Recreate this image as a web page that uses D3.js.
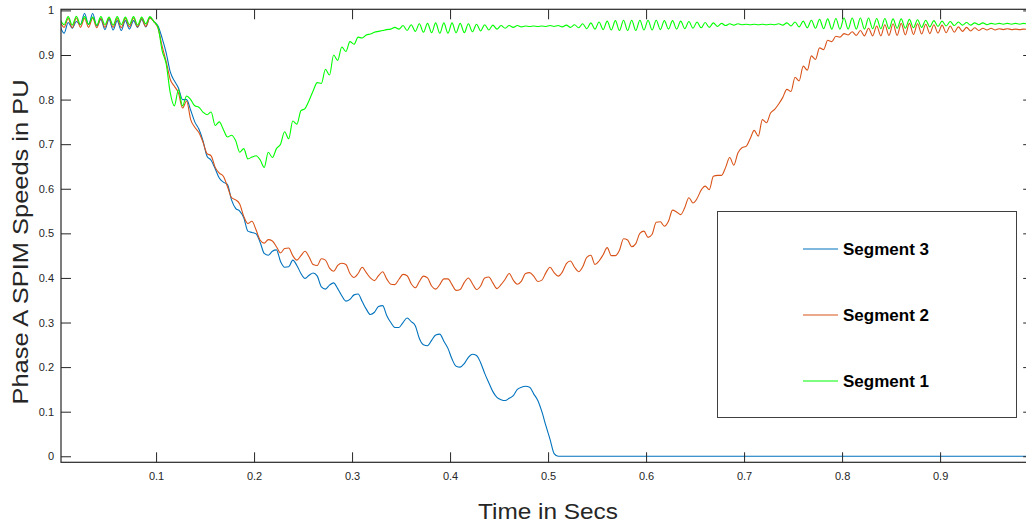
<!DOCTYPE html>
<html>
<head>
<meta charset="utf-8">
<script src="https://cdn.jsdelivr.net/npm/d3@7"></script>
<style>
  body { margin: 0; background: #ffffff; }
  svg { display: block; }
</style>
</head>
<body>
<svg id="chart" width="1026" height="529"></svg>
<script>
// Sampling of the recorded speed traces (seconds)
const sampleStart = 0.002;
const sampleStep = 1 / 240;

// Segment 1 speed (PU)
const segment1 = [
  0.980, 0.968, 0.986, 0.967, 0.987, 0.968, 0.986, 0.969, 0.985, 0.967, 0.986, 0.968, 0.985, 0.967, 0.986, 0.968, 0.985, 0.968, 0.986, 0.967, 0.985, 0.970, 0.986, 0.975,
  0.962, 0.910, 0.880, 0.815, 0.786, 0.822, 0.786, 0.808, 0.800, 0.786, 0.783, 0.772, 0.766, 0.772, 0.742, 0.750, 0.733, 0.716, 0.720, 0.708, 0.682, 0.690, 0.667, 0.671, 0.674, 0.665,
  0.648, 0.682, 0.670, 0.690, 0.700, 0.728, 0.712, 0.752, 0.745, 0.775, 0.780, 0.798, 0.820, 0.838, 0.836, 0.868, 0.855, 0.900, 0.888, 0.918, 0.908, 0.930, 0.924, 0.940, 0.938, 0.945,
  0.947, 0.951, 0.953, 0.955, 0.957, 0.958, 0.962, 0.958, 0.966, 0.955, 0.968, 0.953, 0.970, 0.951, 0.971, 0.950, 0.972, 0.949, 0.972, 0.949, 0.972, 0.950, 0.971, 0.950,
  0.970, 0.952, 0.969, 0.954, 0.968, 0.956, 0.967, 0.958, 0.966, 0.960, 0.966, 0.962, 0.966, 0.963, 0.965, 0.964, 0.965, 0.964, 0.965, 0.964, 0.966, 0.964, 0.966, 0.963, 0.967, 0.962,
  0.968, 0.961, 0.970, 0.959, 0.972, 0.958, 0.974, 0.957, 0.976, 0.956, 0.977, 0.955, 0.978, 0.955, 0.978, 0.955, 0.978, 0.956, 0.978, 0.956, 0.978, 0.957, 0.977, 0.958,
  0.977, 0.958, 0.976, 0.959, 0.975, 0.960, 0.974, 0.961, 0.973, 0.962, 0.972, 0.964, 0.971, 0.966, 0.970, 0.967, 0.970, 0.968, 0.969, 0.968, 0.969, 0.968, 0.969, 0.968, 0.969, 0.968,
  0.970, 0.967, 0.972, 0.965, 0.974, 0.963, 0.976, 0.961, 0.978, 0.960, 0.980, 0.959, 0.981, 0.958, 0.982, 0.958, 0.983, 0.958, 0.983, 0.958, 0.983, 0.958, 0.983, 0.959,
  0.982, 0.959, 0.982, 0.959, 0.981, 0.960, 0.981, 0.960, 0.980, 0.961, 0.979, 0.962, 0.978, 0.963, 0.977, 0.964, 0.976, 0.965, 0.975, 0.966, 0.974, 0.967, 0.973, 0.967,
  0.972, 0.968, 0.972, 0.968, 0.971, 0.969, 0.971, 0.969, 0.971, 0.969, 0.971, 0.969, 0.971, 0.969
];

// Segment 2 speed (PU)
const segment2 = [
  0.975, 0.962, 0.982, 0.961, 0.983, 0.962, 0.982, 0.962, 0.983, 0.961, 0.982, 0.962, 0.983, 0.962, 0.982, 0.961, 0.982, 0.963, 0.983, 0.963, 0.982, 0.964, 0.983, 0.975,
  0.960, 0.920, 0.885, 0.845, 0.830, 0.815, 0.781, 0.797, 0.755, 0.738, 0.726, 0.705, 0.679, 0.674, 0.648, 0.635, 0.628, 0.605, 0.580, 0.575, 0.566, 0.538, 0.522, 0.527, 0.508, 0.485,
  0.478, 0.486, 0.483, 0.470, 0.456, 0.466, 0.467, 0.450, 0.440, 0.450, 0.460, 0.447, 0.430, 0.428, 0.443, 0.440, 0.422, 0.415, 0.428, 0.433, 0.430, 0.410, 0.401, 0.410, 0.424, 0.412,
  0.400, 0.394, 0.405, 0.414, 0.398, 0.386, 0.385, 0.397, 0.408, 0.405, 0.387, 0.378, 0.392, 0.404, 0.400, 0.382, 0.375, 0.385, 0.398, 0.398, 0.385, 0.372, 0.374, 0.390,
  0.400, 0.387, 0.374, 0.382, 0.400, 0.402, 0.389, 0.376, 0.385, 0.397, 0.410, 0.395, 0.386, 0.393, 0.410, 0.412, 0.404, 0.392, 0.395, 0.412, 0.424, 0.412, 0.404, 0.413, 0.432, 0.438,
  0.424, 0.414, 0.425, 0.446, 0.451, 0.430, 0.438, 0.452, 0.468, 0.450, 0.450, 0.462, 0.488, 0.485, 0.470, 0.477, 0.500, 0.505, 0.491, 0.498, 0.525, 0.526, 0.516, 0.527,
  0.552, 0.548, 0.542, 0.558, 0.580, 0.568, 0.578, 0.597, 0.606, 0.598, 0.628, 0.630, 0.630, 0.648, 0.670, 0.653, 0.680, 0.692, 0.695, 0.712, 0.731, 0.718, 0.755, 0.748, 0.770, 0.778,
  0.790, 0.805, 0.823, 0.818, 0.850, 0.842, 0.875, 0.866, 0.898, 0.890, 0.916, 0.912, 0.933, 0.930, 0.942, 0.940, 0.948, 0.945, 0.952, 0.944, 0.955, 0.943, 0.960, 0.943,
  0.965, 0.943, 0.968, 0.944, 0.970, 0.944, 0.971, 0.945, 0.971, 0.946, 0.970, 0.947, 0.969, 0.948, 0.968, 0.949, 0.967, 0.950, 0.965, 0.951, 0.963, 0.953, 0.962, 0.954,
  0.961, 0.955, 0.960, 0.956, 0.960, 0.956, 0.959, 0.957, 0.959, 0.957, 0.958, 0.957, 0.958, 0.957
];

// Segment 3 speed (PU) - stalls and stays at zero
const segment3 = [
  0.965, 0.949, 0.973, 0.960, 0.975, 0.968, 0.993, 0.968, 0.993, 0.965, 0.980, 0.957, 0.980, 0.956, 0.977, 0.955, 0.977, 0.958, 0.977, 0.962, 0.980, 0.963, 0.984, 0.975,
  0.965, 0.938, 0.905, 0.862, 0.842, 0.826, 0.800, 0.800, 0.776, 0.750, 0.734, 0.708, 0.673, 0.664, 0.645, 0.624, 0.615, 0.610, 0.575, 0.556, 0.550, 0.535, 0.505, 0.502, 0.499, 0.480,
  0.455, 0.451, 0.460, 0.463, 0.437, 0.424, 0.425, 0.440, 0.428, 0.410, 0.399, 0.406, 0.411, 0.404, 0.380, 0.375, 0.384, 0.389, 0.376, 0.360, 0.348, 0.352, 0.362, 0.364, 0.347, 0.330,
  0.318, 0.323, 0.336, 0.338, 0.316, 0.300, 0.289, 0.289, 0.300, 0.310, 0.302, 0.293, 0.264, 0.250, 0.248, 0.260, 0.272, 0.274, 0.258, 0.242, 0.218, 0.202, 0.200, 0.208,
  0.222, 0.229, 0.226, 0.210, 0.186, 0.165, 0.145, 0.132, 0.127, 0.125, 0.130, 0.136, 0.150, 0.155, 0.157, 0.155, 0.140, 0.125, 0.100, 0.068, 0.038, 0.006,
  0, 0, 0, 0, 0, 0, 0, 0, 0, 0, 0, 0, 0, 0, 0, 0, 0, 0, 0, 0,
  0, 0, 0, 0, 0, 0, 0, 0, 0, 0, 0, 0, 0, 0, 0, 0, 0, 0, 0, 0,
  0, 0, 0, 0, 0, 0, 0, 0, 0, 0, 0, 0, 0, 0, 0, 0, 0, 0, 0, 0,
  0, 0, 0, 0, 0, 0, 0, 0, 0, 0, 0, 0, 0, 0, 0, 0, 0, 0, 0, 0,
  0, 0, 0, 0, 0, 0, 0, 0, 0, 0, 0, 0, 0, 0, 0, 0, 0, 0, 0, 0,
  0, 0, 0, 0, 0, 0, 0, 0, 0, 0, 0, 0, 0, 0, 0, 0
];

const xTicks = [0.1, 0.2, 0.3, 0.4, 0.5, 0.6, 0.7, 0.8, 0.9];
const yTicks = [0, 0.1, 0.2, 0.3, 0.4, 0.5, 0.6, 0.7, 0.8, 0.9, 1];

const seriesNames = ["Segment 3", "Segment 2", "Segment 1"];
const seriesColors = ["#0072BD", "#D95319", "#00FF00"];
const seriesValues = [segment3, segment2, segment1];

const axisColor = "#262626";
const svg = d3.select("#chart");

const plot = { left: 61, top: 9.3, right: 1033.2, bottom: 462.3 };

const x = d3.scaleLinear().domain([0.003, 0.995]).range([plot.left, plot.right]);
const y = d3.scaleLinear().domain([-0.0135, 1.0025]).range([plot.bottom, plot.top]);

svg.append("rect").attr("width", 1026).attr("height", 529).attr("fill", "#ffffff");

svg.append("defs").append("clipPath").attr("id", "plot-clip")
  .append("rect")
  .attr("x", plot.left).attr("y", plot.top)
  .attr("width", plot.right - plot.left).attr("height", plot.bottom - plot.top);

// Traces
const line = d3.line()
  .x((d, i) => x(sampleStart + i * sampleStep))
  .y(d => y(d))
  .curve(d3.curveMonotoneX);

svg.append("g").attr("clip-path", "url(#plot-clip)")
  .selectAll("path")
  .data(seriesValues)
  .join("path")
  .attr("d", d => line(d))
  .attr("fill", "none")
  .attr("stroke", (d, i) => seriesColors[i])
  .attr("stroke-width", 1.1)
  .attr("stroke-linejoin", "round");

// Axes (ticks pointing inward, box on all four sides)
function styleAxis(g) {
  g.select(".domain").remove();
  g.selectAll(".tick line").attr("stroke", axisColor).attr("stroke-width", 1);
  g.selectAll(".tick text")
    .attr("fill", axisColor)
    .style("font-family", "'Liberation Sans', Arial, Helvetica, sans-serif")
    .style("font-size", "11px");
}

svg.append("g")
  .attr("transform", `translate(0,${plot.bottom})`)
  .call(d3.axisBottom(x).tickValues(xTicks).tickSize(-10).tickPadding(10).tickFormat(d3.format("~g")))
  .call(styleAxis);

svg.append("g")
  .attr("transform", `translate(0,${plot.top})`)
  .call(d3.axisTop(x).tickValues(xTicks).tickSize(-10).tickFormat(""))
  .call(styleAxis);

svg.append("g")
  .attr("transform", `translate(${plot.left},0)`)
  .call(d3.axisLeft(y).tickValues(yTicks).tickSize(-10).tickPadding(7).tickFormat(d3.format("~g")))
  .call(styleAxis);

svg.append("g")
  .attr("transform", `translate(${plot.right},0)`)
  .call(d3.axisRight(y).tickValues(yTicks).tickSize(-10).tickFormat(""))
  .call(styleAxis);

svg.append("rect")
  .attr("x", plot.left).attr("y", plot.top)
  .attr("width", plot.right - plot.left).attr("height", plot.bottom - plot.top)
  .attr("fill", "none").attr("stroke", axisColor).attr("stroke-width", 1.2);

// Axis titles
svg.append("text")
  .attr("x", 548).attr("y", 519)
  .attr("text-anchor", "middle")
  .attr("textLength", 140).attr("lengthAdjust", "spacingAndGlyphs")
  .attr("fill", axisColor)
  .style("font-family", "'Liberation Sans', Arial, Helvetica, sans-serif")
  .style("font-size", "22px")
  .text("Time in Secs");

svg.append("text")
  .attr("transform", "translate(28,242) rotate(-90)")
  .attr("text-anchor", "middle")
  .attr("textLength", 325).attr("lengthAdjust", "spacingAndGlyphs")
  .attr("fill", axisColor)
  .style("font-family", "'Liberation Sans', Arial, Helvetica, sans-serif")
  .style("font-size", "22px")
  .text("Phase A SPIM Speeds in PU");

// Legend
const legend = svg.append("g");
legend.append("rect")
  .attr("x", 717.5).attr("y", 211.5).attr("width", 299).attr("height", 206)
  .attr("fill", "#ffffff").attr("stroke", "#404040").attr("stroke-width", 1);

const rowY = d3.scalePoint().domain(seriesNames).range([249, 381]);
const rows = legend.selectAll("g.entry").data(seriesNames).join("g")
  .attr("class", "entry")
  .attr("transform", d => `translate(0,${rowY(d)})`);
rows.append("line")
  .attr("x1", 803).attr("x2", 838).attr("y1", 0).attr("y2", 0)
  .attr("stroke", (d, i) => seriesColors[i]).attr("stroke-width", 1.2);
rows.append("text")
  .attr("x", 843).attr("y", 0).attr("dy", "0.36em")
  .attr("fill", "#000000")
  .style("font-family", "'Liberation Sans', Arial, Helvetica, sans-serif")
  .style("font-size", "17px").style("font-weight", "bold")
  .text(d => d);
</script>
</body>
</html>
